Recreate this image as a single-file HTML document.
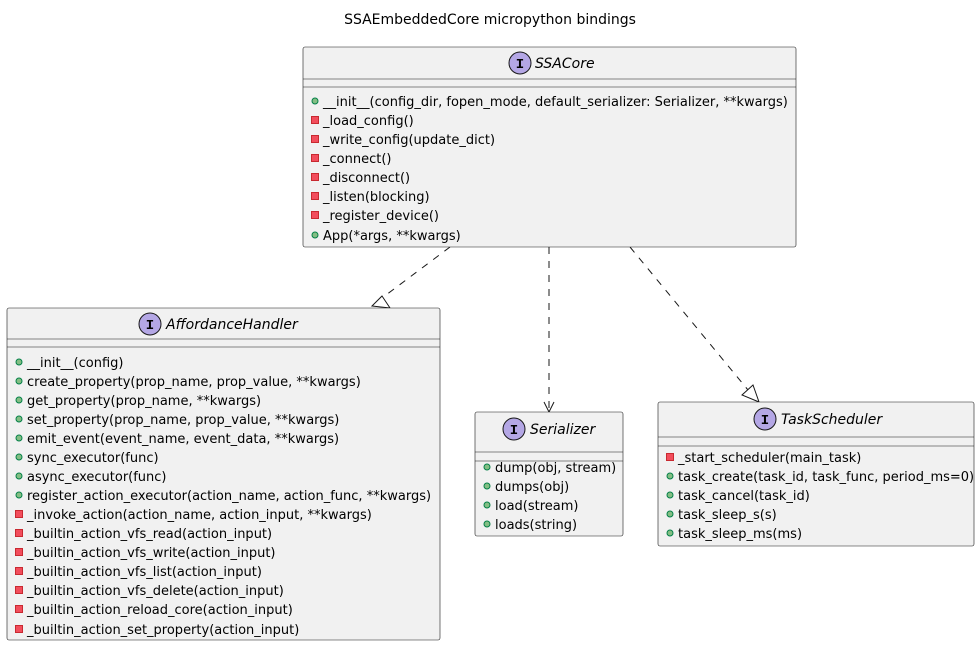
<!DOCTYPE html>
<html><head><meta charset="utf-8"><style>
body{margin:0;background:#fff}
svg text{font-family:"DejaVu Sans","Liberation Sans",sans-serif;font-size:13px;fill:#000}
.t{font-style:italic;font-size:14px}
</style></head><body>
<svg width="980" height="647" viewBox="0 0 980 647" xmlns="http://www.w3.org/2000/svg">
<defs>
<g id="pub"><circle cx="0" cy="0" r="3" fill="#84BE84" stroke="#038048" stroke-width="1"/></g>
<g id="priv"><rect x="-3.5" y="-3.5" width="7" height="7" fill="#F24D5C" stroke="#C82930" stroke-width="1"/></g>
</defs>
<text x="490" y="24" text-anchor="middle" style="font-size:14px">SSAEmbeddedCore micropython bindings</text>

<g stroke="#181818" fill="none" stroke-dasharray="7,7">
<line x1="450" y1="247" x2="378" y2="301"/>
<line x1="549" y1="247" x2="549" y2="410"/>
<line x1="630" y1="247" x2="748" y2="390"/>
</g>
<polygon points="390,308 372,306 382,296" fill="#fff" stroke="#181818"/>
<polyline points="544,402 549,412 554,402" fill="none" stroke="#181818"/>
<polygon points="759,402 742,395 753,385" fill="#fff" stroke="#181818"/>

<!-- SSACore -->
<rect x="303" y="47" width="493" height="200" rx="2" fill="#F1F1F1" stroke="#181818" stroke-width="0.6"/>
<line x1="303" y1="79" x2="796" y2="79" stroke="#181818" stroke-width="0.6"/>
<line x1="303" y1="87" x2="796" y2="87" stroke="#181818" stroke-width="0.6"/>
<circle cx="520" cy="63" r="11" fill="#B4A7E5" stroke="#181818"/>
<text x="520" y="68" text-anchor="middle" style="font-weight:bold;font-family:'Liberation Mono',monospace;font-size:14px">I</text>
<text x="535" y="68" class="t">SSACore</text>
<g>
<use href="#pub" x="315" y="101"/><text x="323" y="106">__init__(config_dir, fopen_mode, default_serializer: Serializer, **kwargs)</text>
<use href="#priv" x="315" y="120"/><text x="323" y="125">_load_config()</text>
<use href="#priv" x="315" y="139"/><text x="323" y="144">_write_config(update_dict)</text>
<use href="#priv" x="315" y="158"/><text x="323" y="163">_connect()</text>
<use href="#priv" x="315" y="177"/><text x="323" y="182">_disconnect()</text>
<use href="#priv" x="315" y="196"/><text x="323" y="201">_listen(blocking)</text>
<use href="#priv" x="315" y="215"/><text x="323" y="220">_register_device()</text>
<use href="#pub" x="315" y="235"/><text x="323" y="240">App(*args, **kwargs)</text>
</g>

<!-- AffordanceHandler -->
<rect x="7" y="308" width="433" height="332" rx="2" fill="#F1F1F1" stroke="#181818" stroke-width="0.6"/>
<line x1="7" y1="339" x2="440" y2="339" stroke="#181818" stroke-width="0.6"/>
<line x1="7" y1="347" x2="440" y2="347" stroke="#181818" stroke-width="0.6"/>
<circle cx="150" cy="324" r="11" fill="#B4A7E5" stroke="#181818"/>
<text x="150" y="329" text-anchor="middle" style="font-weight:bold;font-family:'Liberation Mono',monospace;font-size:14px">I</text>
<text x="166" y="329" class="t">AffordanceHandler</text>
<g>
<use href="#pub" x="19" y="362"/><text x="27" y="367">__init__(config)</text>
<use href="#pub" x="19" y="381"/><text x="27" y="386">create_property(prop_name, prop_value, **kwargs)</text>
<use href="#pub" x="19" y="400"/><text x="27" y="405">get_property(prop_name, **kwargs)</text>
<use href="#pub" x="19" y="419"/><text x="27" y="424">set_property(prop_name, prop_value, **kwargs)</text>
<use href="#pub" x="19" y="438"/><text x="27" y="443">emit_event(event_name, event_data, **kwargs)</text>
<use href="#pub" x="19" y="457"/><text x="27" y="462">sync_executor(func)</text>
<use href="#pub" x="19" y="476"/><text x="27" y="481">async_executor(func)</text>
<use href="#pub" x="19" y="495"/><text x="27" y="500">register_action_executor(action_name, action_func, **kwargs)</text>
<use href="#priv" x="19" y="514"/><text x="27" y="519">_invoke_action(action_name, action_input, **kwargs)</text>
<use href="#priv" x="19" y="533"/><text x="27" y="538">_builtin_action_vfs_read(action_input)</text>
<use href="#priv" x="19" y="552"/><text x="27" y="557">_builtin_action_vfs_write(action_input)</text>
<use href="#priv" x="19" y="571"/><text x="27" y="576">_builtin_action_vfs_list(action_input)</text>
<use href="#priv" x="19" y="590"/><text x="27" y="595">_builtin_action_vfs_delete(action_input)</text>
<use href="#priv" x="19" y="609"/><text x="27" y="614">_builtin_action_reload_core(action_input)</text>
<use href="#priv" x="19" y="629"/><text x="27" y="634">_builtin_action_set_property(action_input)</text>
</g>

<!-- Serializer -->
<rect x="475" y="412" width="148" height="124" rx="2" fill="#F1F1F1" stroke="#181818" stroke-width="0.6"/>
<line x1="475" y1="452" x2="623" y2="452" stroke="#181818" stroke-width="0.6"/>
<line x1="475" y1="461" x2="623" y2="461" stroke="#181818" stroke-width="0.6"/>
<circle cx="514" cy="429" r="11" fill="#B4A7E5" stroke="#181818"/>
<text x="514" y="434" text-anchor="middle" style="font-weight:bold;font-family:'Liberation Mono',monospace;font-size:14px">I</text>
<text x="530" y="434" class="t">Serializer</text>
<use href="#pub" x="487" y="467"/><text x="495" y="472">dump(obj, stream)</text>
<use href="#pub" x="487" y="486"/><text x="495" y="491">dumps(obj)</text>
<use href="#pub" x="487" y="505"/><text x="495" y="510">load(stream)</text>
<use href="#pub" x="487" y="524"/><text x="495" y="529">loads(string)</text>

<!-- TaskScheduler -->
<rect x="658" y="402" width="316" height="144" rx="2" fill="#F1F1F1" stroke="#181818" stroke-width="0.6"/>
<line x1="658" y1="437" x2="974" y2="437" stroke="#181818" stroke-width="0.6"/>
<line x1="658" y1="446" x2="974" y2="446" stroke="#181818" stroke-width="0.6"/>
<circle cx="765" cy="419" r="11" fill="#B4A7E5" stroke="#181818"/>
<text x="765" y="424" text-anchor="middle" style="font-weight:bold;font-family:'Liberation Mono',monospace;font-size:14px">I</text>
<text x="781" y="424" class="t">TaskScheduler</text>
<use href="#priv" x="670" y="457"/><text x="678" y="462">_start_scheduler(main_task)</text>
<use href="#pub" x="670" y="476"/><text x="678" y="481">task_create(task_id, task_func, period_ms=0)</text>
<use href="#pub" x="670" y="495"/><text x="678" y="500">task_cancel(task_id)</text>
<use href="#pub" x="670" y="514"/><text x="678" y="519">task_sleep_s(s)</text>
<use href="#pub" x="670" y="533"/><text x="678" y="538">task_sleep_ms(ms)</text>
</svg>
</body></html>
